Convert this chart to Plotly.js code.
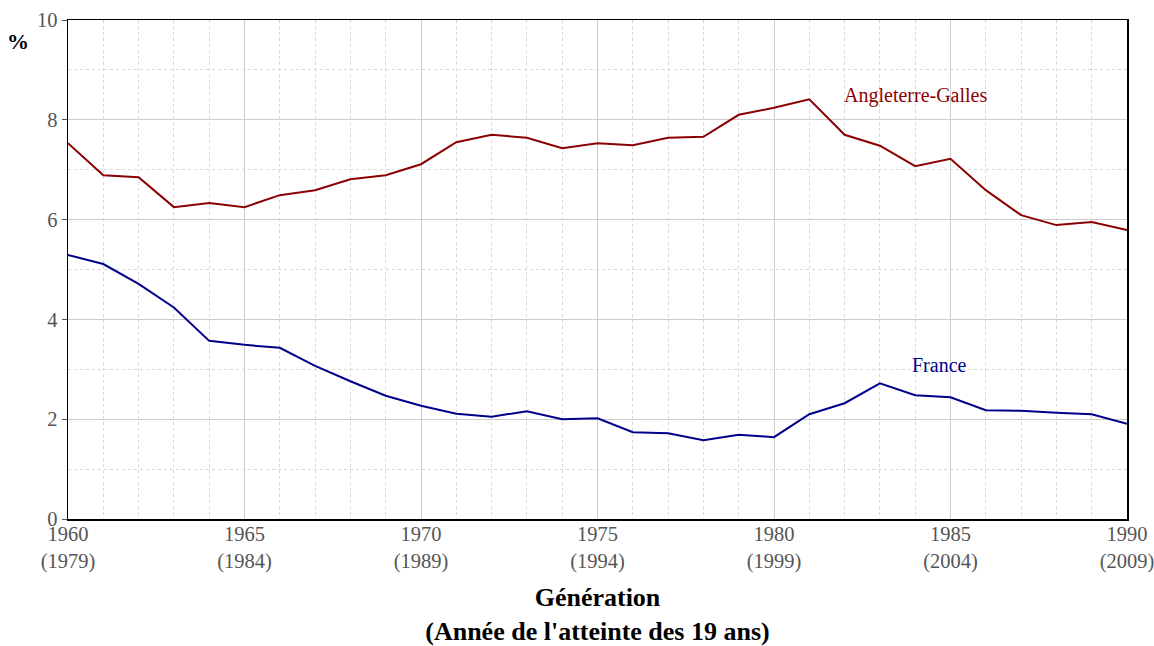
<!DOCTYPE html>
<html>
<head>
<meta charset="utf-8">
<script src="https://cdn.plot.ly/plotly-3.0.1.min.js"></script>
<style>html,body{margin:0;padding:0;background:#fff;}#chart{width:1154px;height:646px;}</style>
</head>
<body>
<div id="chart"></div>
<script>
const years = [1960,1961,1962,1963,1964,1965,1966,1967,1968,1969,1970,1971,1972,1973,1974,1975,1976,1977,1978,1979,1980,1981,1982,1983,1984,1985,1986,1987,1988,1989,1990];
const angleterreGalles = [7.53,6.89,6.85,6.25,6.33,6.25,6.49,6.59,6.81,6.89,7.11,7.55,7.70,7.64,7.43,7.53,7.49,7.64,7.66,8.10,8.24,8.41,7.70,7.48,7.07,7.22,6.59,6.09,5.89,5.95,5.79];
const france = [5.29,5.11,4.71,4.24,3.57,3.49,3.43,3.07,2.76,2.47,2.27,2.11,2.05,2.16,2.00,2.02,1.74,1.72,1.58,1.69,1.64,2.10,2.32,2.72,2.48,2.44,2.18,2.17,2.13,2.10,1.91];
const xTickVals = [1960,1965,1970,1975,1980,1985,1990];
const xTickText = ["1960<br>(1979)","1965<br>(1984)","1970<br>(1989)","1975<br>(1994)","1980<br>(1999)","1985<br>(2004)","1990<br>(2009)"];
const yTickVals = [0,2,4,6,8,10];

const FONT = "Liberation Serif, DejaVu Serif, serif";
const traces = [
  {x: years, y: angleterreGalles, type: 'scatter', mode: 'lines', name: 'Angleterre-Galles', line: {color: '#8b0000', width: 2}},
  {x: years, y: france, type: 'scatter', mode: 'lines', name: 'France', line: {color: '#00008b', width: 2}}
];
const layout = {
  width: 1154, height: 646,
  margin: {l: 68, r: 27, t: 20, b: 127},
  paper_bgcolor: '#fff', plot_bgcolor: '#fff',
  showlegend: false,
  font: {family: FONT, size: 20, color: '#555'},
  xaxis: {
    range: [1960, 1990], tickvals: xTickVals, ticktext: xTickText,
    showgrid: true, gridcolor: '#cccccc', gridwidth: 1,
    minor: {dtick: 1, tick0: 1960, showgrid: true, gridcolor: '#d8d8d8', griddash: 'dot', gridwidth: 1},
    showline: true, linecolor: '#000', linewidth: 1.5, mirror: true,
    ticks: '', zeroline: false, ticklabelstandoff: -4, ticklabeloverflow: 'allow',
    tickfont: {family: FONT, size: 20.5, color: '#555'},
    title: {text: '<b>Génération</b><br><b>(Année de l\'atteinte des 19 ans)</b>', font: {family: FONT, size: 26, color: '#000'}, standoff: 20}
  },
  yaxis: {
    range: [0, 10], tickvals: yTickVals,
    showgrid: true, gridcolor: '#cccccc', gridwidth: 1,
    minor: {dtick: 1, tick0: 0, showgrid: true, gridcolor: '#d8d8d8', griddash: 'dot', gridwidth: 1},
    showline: true, linecolor: '#000', linewidth: 1.5, mirror: true,
    ticks: 'outside', ticklen: 5, tickcolor: '#555', zeroline: false,
    tickfont: {family: FONT, size: 20.5, color: '#555'}
  },
  annotations: [
    {x: 1984.0, y: 8.48, xref: 'x', yref: 'y', text: 'Angleterre-Galles', showarrow: false, font: {family: FONT, size: 20, color: '#8b0000'}},
    {x: 1984.7, y: 3.09, xref: 'x', yref: 'y', text: 'France', showarrow: false, font: {family: FONT, size: 20, color: '#00008b'}},
    {x: -0.0472, y: 0.956, xref: 'paper', yref: 'paper', xanchor: 'center', yanchor: 'middle', text: '<b>%</b>', showarrow: false, font: {family: FONT, size: 22, color: '#000'}}
  ]
};
Plotly.newPlot('chart', traces, layout, {displayModeBar: false, staticPlot: true});
</script>
</body>
</html>
